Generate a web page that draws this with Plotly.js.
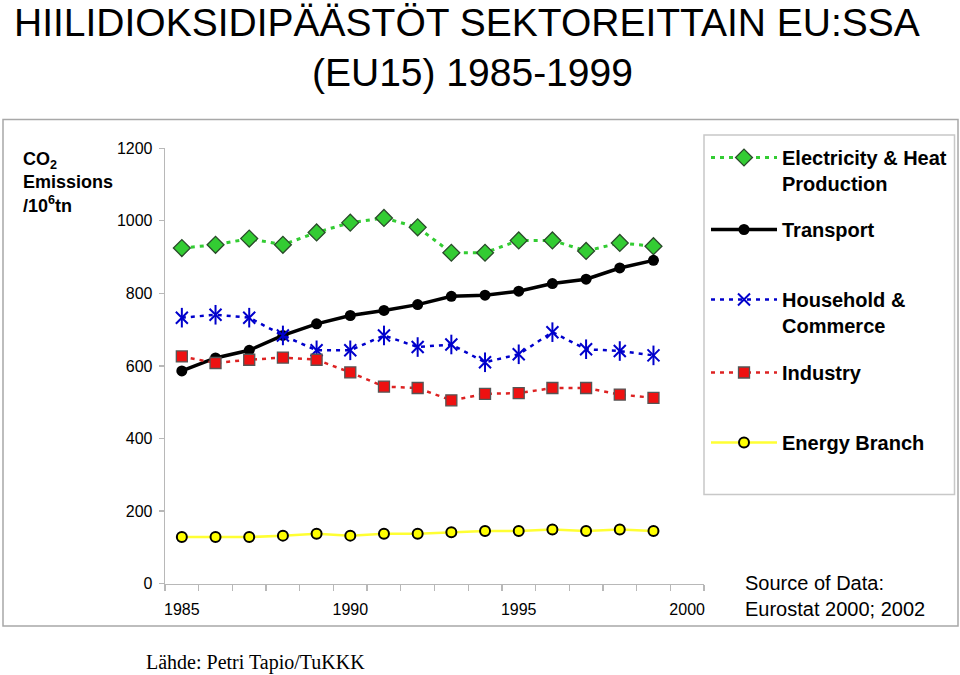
<!DOCTYPE html>
<html>
<head>
<meta charset="utf-8">
<script src="https://cdn.plot.ly/plotly-3.0.1.min.js"></script>
<style>
  html, body { margin: 0; padding: 0; background: #ffffff; }
  #chart { width: 960px; height: 675px; }
</style>
</head>
<body>
<div id="chart"></div>
<script>
// ---- data ----
const years = [1985, 1986, 1987, 1988, 1989, 1990, 1991, 1992, 1993, 1994, 1995, 1996, 1997, 1998, 1999];
const electricityHeat = [925, 934, 951, 934, 968, 995, 1008, 982, 912, 912, 946, 946, 917, 939, 930];
const transport = [586, 622, 643, 684, 716, 739, 753, 769, 792, 795, 806, 827, 839, 870, 891];
const householdCommerce = [733, 741, 733, 684, 643, 643, 684, 652, 659, 610, 632, 693, 646, 641, 629];
const industry = [626, 608, 617, 623, 617, 582, 543, 539, 505, 523, 525, 539, 539, 521, 512];
const energyBranch = [128, 128, 128, 132, 137, 132, 137, 137, 141, 145, 145, 149, 145, 149, 145];
const seriesNames = ["Electricity & Heat<br>Production", "Transport", "Household &<br>Commerce", "Industry", "Energy Branch"];
const xTickVals = [1985, 1990, 1995, 2000];
const yTickVals = [0, 200, 400, 600, 800, 1000, 1200];

const W = 960, H = 675;
const px = v => v / W;
const py = v => 1 - v / H;
const FONT = "Liberation Sans, Arial, sans-serif";

const traces = [
  { x: years, y: electricityHeat, name: seriesNames[0], type: "scatter", mode: "lines+markers",
    legend: "legend",
    line: { color: "#33cc33", width: 3, dash: "4px,5px" },
    marker: { symbol: "diamond", size: 13, color: "#33cc33", line: { color: "#2a4a2a", width: 1.3 } } },
  { x: years, y: transport, name: seriesNames[1], type: "scatter", mode: "lines+markers",
    legend: "legend2",
    line: { color: "#000000", width: 3.5 },
    marker: { symbol: "circle", size: 11, color: "#000000" } },
  { x: years, y: householdCommerce, name: seriesNames[2], type: "scatter", mode: "lines+markers",
    legend: "legend3",
    line: { color: "#0000cc", width: 2.5, dash: "4px,5px" },
    marker: { symbol: "x-thin-open", size: 12, color: "#0000cc", line: { color: "#0000cc", width: 2 } } },
  { x: years, y: householdCommerce, name: "hc-v", type: "scatter", mode: "markers", showlegend: false,
    hoverinfo: "skip",
    marker: { symbol: "line-ns-open", size: 14, color: "#0000cc", line: { color: "#0000cc", width: 2 } } },
  { x: years, y: industry, name: seriesNames[3], type: "scatter", mode: "lines+markers",
    legend: "legend4",
    line: { color: "#dd2222", width: 2.5, dash: "4px,5px" },
    marker: { symbol: "square", size: 11, color: "#ee1111", line: { color: "#555555", width: 1.3 } } },
  { x: years, y: energyBranch, name: seriesNames[4], type: "scatter", mode: "lines+markers",
    legend: "legend5",
    line: { color: "#ffff33", width: 2.5 },
    marker: { symbol: "circle", size: 10, color: "#ffff00", line: { color: "#000000", width: 2 } } }
];

function legendAt(topPx) {
  return {
    x: px(706), xanchor: "left", y: py(topPx), yanchor: "top",
    bgcolor: "rgba(0,0,0,0)", borderwidth: 0,
    font: { family: FONT, size: 20, color: "#000000", weight: "bold" },
    itemwidth: 66, valign: "top", tracegroupgap: 0
  };
}

const axisGray = "#b8b8b8";

const layout = {
  width: W, height: H,
  margin: { l: 0, r: 0, t: 0, b: 0 },
  paper_bgcolor: "#ffffff", plot_bgcolor: "#ffffff",
  font: { family: FONT, size: 16, color: "#000000" },
  showlegend: true,
  xaxis: {
    domain: [px(165), px(704)],
    range: [1984.5, 2000.5],
    tickvals: xTickVals, ticktext: xTickVals.map(String),
    ticks: "", showgrid: false, zeroline: false,
    showline: true, linecolor: axisGray, linewidth: 1.3,
    tickfont: { family: FONT, size: 16, color: "#000000" },
    ticklabelstandoff: 11,
    minor: { tick0: 1984.5, dtick: 1, ticks: "outside", ticklen: 6, tickcolor: axisGray, tickwidth: 1.3, showgrid: false }
  },
  yaxis: {
    domain: [py(583.5), py(148.3)],
    range: [0, 1200],
    tickvals: yTickVals,
    ticks: "outside", ticklen: 5, tickcolor: axisGray, tickwidth: 1.3,
    showgrid: false, zeroline: false,
    showline: true, linecolor: axisGray, linewidth: 1.3,
    tickfont: { family: FONT, size: 16, color: "#000000" },
    ticklabelstandoff: 3
  },
  legend: legendAt(138),
  legend2: legendAt(210),
  legend3: legendAt(280),
  legend4: legendAt(353),
  legend5: legendAt(423),
  shapes: [
    { type: "rect", xref: "paper", yref: "paper", x0: px(3), x1: px(958), y0: py(626), y1: py(119.5),
      line: { color: "#a8a8a8", width: 1.5 }, fillcolor: "rgba(0,0,0,0)", layer: "below" },
    { type: "rect", xref: "paper", yref: "paper", x0: px(704), x1: px(954.5), y0: py(494.5), y1: py(135),
      line: { color: "#c8c8c8", width: 1.5 }, fillcolor: "rgba(0,0,0,0)", layer: "below" }
  ],
  annotations: [
    { text: "HIILIDIOKSIDIPÄÄSTÖT SEKTOREITTAIN EU:SSA", xref: "paper", yref: "paper",
      x: px(467), y: py(22), xanchor: "center", yanchor: "middle", showarrow: false,
      font: { family: FONT, size: 39, color: "#000000" } },
    { text: "(EU15) 1985-1999", xref: "paper", yref: "paper",
      x: px(472), y: py(72), xanchor: "center", yanchor: "middle", showarrow: false,
      font: { family: FONT, size: 39, color: "#000000" } },
    { text: "CO<sub>2</sub><br>Emissions<br>/10<sup>6</sup>tn", xref: "paper", yref: "paper",
      x: px(21), y: py(147), xanchor: "left", yanchor: "top", align: "left", showarrow: false,
      font: { family: FONT, size: 18, color: "#000000", weight: "bold" } },
    { text: "Source of Data:<br>Eurostat 2000; 2002", xref: "paper", yref: "paper",
      x: px(743), y: py(595.5), xanchor: "left", yanchor: "middle", align: "left", showarrow: false,
      font: { family: FONT, size: 20, color: "#000000" } },
    { text: "Lähde: Petri Tapio/TuKKK", xref: "paper", yref: "paper",
      x: px(144), y: py(662), xanchor: "left", yanchor: "middle", showarrow: false,
      font: { family: "Liberation Serif, Times New Roman, serif", size: 20, color: "#000000" } }
  ]
};

Plotly.newPlot("chart", traces, layout, { displayModeBar: false, staticPlot: true });
</script>
</body>
</html>
